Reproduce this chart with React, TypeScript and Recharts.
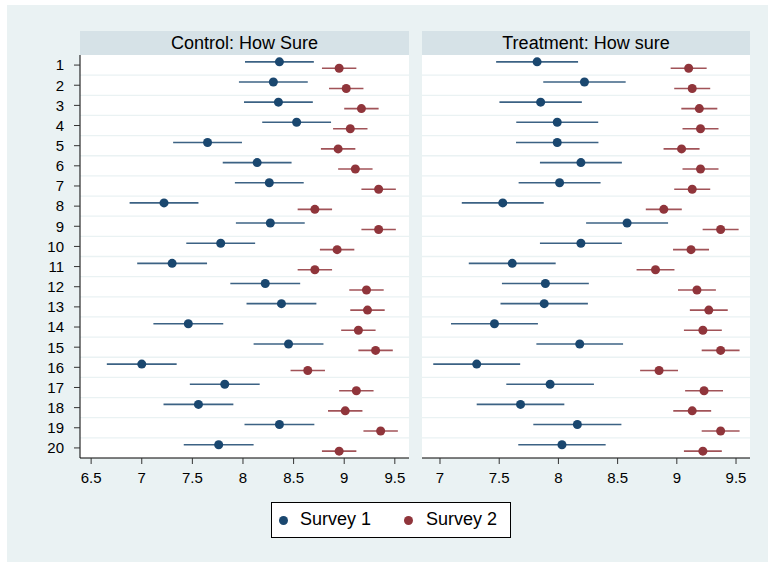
import React from 'react';
import {
  CartesianGrid,
  ErrorBar,
  ReferenceLine,
  Scatter,
  ScatterChart,
  XAxis,
  YAxis,
} from 'recharts';

const rows = [1, 2, 3, 4, 5, 6, 7, 8, 9, 10, 11, 12, 13, 14, 15, 16, 17, 18, 19, 20];

// Control panel: means and CI half-widths
const controlSurvey1 = [8.36, 8.3, 8.35, 8.53, 7.65, 8.14, 8.26, 7.22, 8.27, 7.78, 7.3, 8.22, 8.38, 7.46, 8.45, 7.0, 7.82, 7.56, 8.36, 7.76];
const controlSurvey1Ci = [0.34, 0.34, 0.34, 0.34, 0.34, 0.34, 0.34, 0.34, 0.34, 0.34, 0.345, 0.345, 0.345, 0.345, 0.345, 0.345, 0.345, 0.345, 0.345, 0.345];
const controlSurvey2 = [8.95, 9.02, 9.17, 9.06, 8.94, 9.11, 9.34, 8.71, 9.34, 8.93, 8.71, 9.22, 9.23, 9.14, 9.31, 8.64, 9.12, 9.01, 9.36, 8.95];
const controlSurvey2Ci = [0.17, 0.17, 0.17, 0.17, 0.17, 0.17, 0.17, 0.17, 0.17, 0.17, 0.17, 0.17, 0.17, 0.17, 0.17, 0.17, 0.17, 0.17, 0.17, 0.17];

// Treatment panel
const treatSurvey1 = [7.82, 8.22, 7.85, 7.99, 7.99, 8.19, 8.01, 7.53, 8.58, 8.19, 7.61, 7.89, 7.88, 7.46, 8.18, 7.31, 7.93, 7.68, 8.16, 8.03];
const treatSurvey1Ci = [0.346, 0.348, 0.348, 0.346, 0.348, 0.346, 0.346, 0.346, 0.346, 0.346, 0.367, 0.367, 0.369, 0.367, 0.366, 0.367, 0.37, 0.37, 0.372, 0.369];
const treatSurvey2 = [9.1, 9.13, 9.19, 9.2, 9.04, 9.2, 9.13, 8.89, 9.37, 9.12, 8.82, 9.17, 9.27, 9.22, 9.37, 8.85, 9.23, 9.13, 9.37, 9.22];
const treatSurvey2Ci = [0.152, 0.152, 0.152, 0.152, 0.152, 0.152, 0.152, 0.152, 0.152, 0.152, 0.16, 0.16, 0.16, 0.16, 0.16, 0.16, 0.16, 0.16, 0.16, 0.16];

const controlTicks = [6.5, 7, 7.5, 8, 8.5, 9, 9.5];
const treatTicks = [7, 7.5, 8, 8.5, 9, 9.5];

const NAVY = '#1a476f';
const MAROON = '#90353b';
const BG = '#eaf2f3';
const STRIP = '#d6e2e7';
const FONT = '"Liberation Sans", Arial, sans-serif';

const toPoints = (means: number[], ci: number[], shift: number) =>
  rows.map((r, i) => ({ x: means[i], y: r + shift, err: ci[i] }));

interface PanelProps {
  s1: number[];
  s1Ci: number[];
  s2: number[];
  s2Ci: number[];
  domain: [number, number];
  ticks: number[];
  showY: boolean;
  width: number;
  margin: { top: number; right: number; bottom: number; left: number };
}

function Panel({ s1, s1Ci, s2, s2Ci, domain, ticks, showY, width, margin }: PanelProps) {
  const d1 = toPoints(s1, s1Ci, -0.16);
  const d2 = toPoints(s2, s2Ci, 0.16);
  return (
    <ScatterChart width={width} height={563} margin={margin}>
      <CartesianGrid fill="#ffffff" horizontal={false} vertical={false} />
      {rows.slice(0, 19).map((r) => (
        <ReferenceLine key={r} y={r + 0.5} stroke={BG} strokeWidth={1.3} />
      ))}
      <XAxis
        type="number"
        dataKey="x"
        domain={domain}
        ticks={ticks}
        allowDataOverflow
        height={30}
        axisLine={{ stroke: '#000', strokeWidth: 1 }}
        tickLine={{ stroke: '#333' }}
        tickSize={6}
        tickMargin={8}
        tick={{ fontSize: 15, fill: '#000' }}
      />
      <YAxis
        type="number"
        dataKey="y"
        domain={[0.5, 20.5]}
        ticks={rows}
        interval={0}
        reversed
        allowDataOverflow
        hide={!showY}
        width={60}
        axisLine={{ stroke: '#000', strokeWidth: 1 }}
        tickLine={{ stroke: '#333' }}
        tickSize={6}
        tickMargin={10}
        tick={{ fontSize: 15, fill: '#000' }}
      />
      <Scatter data={d1} fill={NAVY} isAnimationActive={false}>
        <ErrorBar dataKey="err" direction="x" width={0} stroke={NAVY} strokeWidth={1.6} strokeOpacity={0.85} isAnimationActive={false} />
      </Scatter>
      <Scatter data={d2} fill={MAROON} isAnimationActive={false}>
        <ErrorBar dataKey="err" direction="x" width={0} stroke={MAROON} strokeWidth={1.6} strokeOpacity={0.85} isAnimationActive={false} />
      </Scatter>
    </ScatterChart>
  );
}

const stripStyle: React.CSSProperties = {
  position: 'absolute',
  top: 31,
  height: 24,
  lineHeight: '24px',
  background: STRIP,
  textAlign: 'center',
  fontSize: 18,
  color: '#000',
};

const dot = (color: string): React.CSSProperties => ({
  position: 'absolute',
  top: 13,
  width: 9,
  height: 9,
  borderRadius: '50%',
  background: color,
});

export default function App() {
  return (
    <div style={{ position: 'absolute', left: 0, top: 0, width: 768, height: 563, background: '#fff', fontFamily: FONT, overflow: 'hidden' }}>
      <div style={{ position: 'absolute', left: 7, top: 5, width: 761, height: 557, background: BG }} />
      <div style={{ ...stripStyle, left: 80, width: 329 }}>Control: How Sure</div>
      <div style={{ ...stripStyle, left: 422, width: 328 }}>Treatment: How sure</div>
      <div style={{ position: 'absolute', left: 0, top: 0 }}>
        <Panel
          s1={controlSurvey1}
          s1Ci={controlSurvey1Ci}
          s2={controlSurvey2}
          s2Ci={controlSurvey2Ci}
          domain={[6.39, 9.64]}
          ticks={controlTicks}
          showY
          width={415}
          margin={{ top: 55, right: 6, bottom: 75, left: 20 }}
        />
      </div>
      <div style={{ position: 'absolute', left: 415, top: 0 }}>
        <Panel
          s1={treatSurvey1}
          s1Ci={treatSurvey1Ci}
          s2={treatSurvey2}
          s2Ci={treatSurvey2Ci}
          domain={[6.848, 9.618]}
          ticks={treatTicks}
          showY={false}
          width={353}
          margin={{ top: 55, right: 18, bottom: 75, left: 7 }}
        />
      </div>
      <div style={{ position: 'absolute', left: 271, top: 502, width: 240, height: 36, boxSizing: 'border-box', border: '1px solid #000', background: '#fff', fontSize: 18 }}>
        <div style={{ ...dot(NAVY), left: 7 }} />
        <div style={{ position: 'absolute', left: 28, top: 6 }}>Survey 1</div>
        <div style={{ ...dot(MAROON), left: 132 }} />
        <div style={{ position: 'absolute', left: 154, top: 6 }}>Survey 2</div>
      </div>
    </div>
  );
}
